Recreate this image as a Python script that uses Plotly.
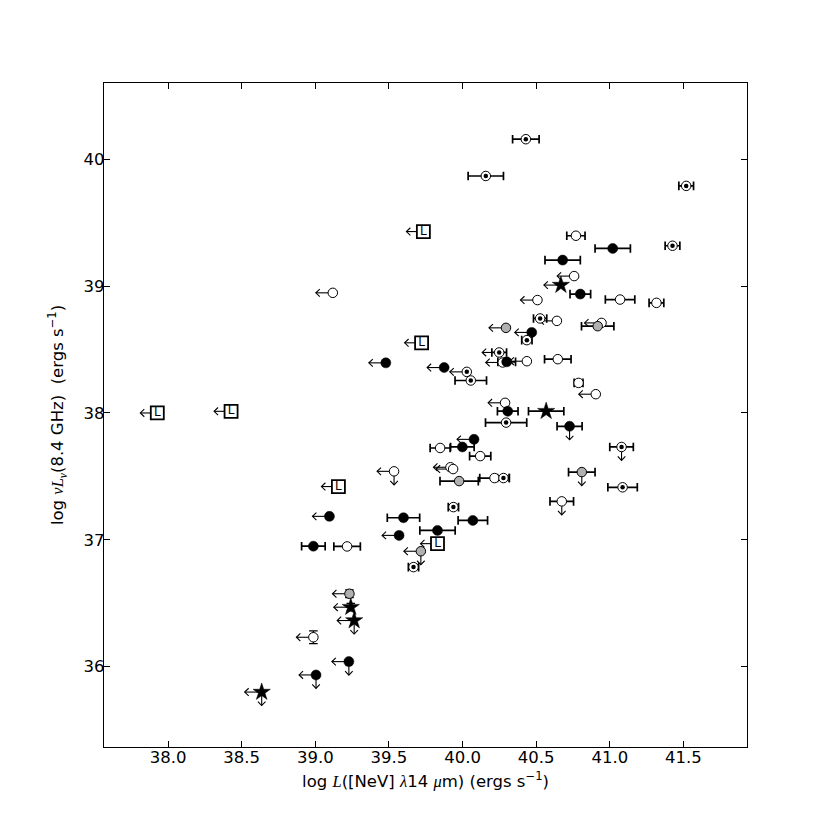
import plotly.graph_objects as go

# ---------------- data ----------------
x_tick_vals = [38.0, 38.5, 39.0, 39.5, 40.0, 40.5, 41.0, 41.5]
x_tick_text = ["38.0", "38.5", "39.0", "39.5", "40.0", "40.5", "41.0", "41.5"]
y_tick_vals = [36, 37, 38, 39, 40]
y_tick_text = ["36", "37", "38", "39", "40"]

# filled black circles
filled_x = [41.02, 40.68, 40.80, 40.47, 40.30, 39.875, 39.479, 40.307, 40.727, 40.078,
            39.999, 40.07, 39.83, 39.599, 39.569, 39.096, 38.987, 39.228, 39.005]
filled_y = [39.297, 39.205, 38.937, 38.635, 38.403, 38.358, 38.395, 38.014, 37.895, 37.792,
            37.732, 37.153, 37.074, 37.174, 37.035, 37.185, 36.95, 36.04, 35.935]
filled_xerr = [0.12, 0.12, 0.07, 0, 0.06, 0, 0, 0.07, 0.085, 0,
               0.08, 0.10, 0.12, 0.11, 0, 0, 0.08, 0, 0]
filled_yerr = [0] * 19
filled_xlim = [0, 0, 0, 1, 0, 1, 1, 0, 0, 1, 0, 0, 0, 0, 1, 1, 0, 1, 1]
filled_ylim = [0, 0, 0, 0, 0, 0, 0, 0, 1, 0, 0, 0, 0, 0, 0, 0, 0, 1, 1]

# open circles
open_x = [40.77, 40.758, 40.509, 41.07, 41.317, 40.641, 40.944, 40.647, 40.437, 40.273,
          40.788, 40.905, 40.289, 39.848, 40.12, 39.918, 39.936, 40.217, 40.674, 39.535,
          39.216, 39.119, 38.987]
open_y = [39.397, 39.079, 38.89, 38.894, 38.868, 38.726, 38.71, 38.424, 38.408, 38.398,
          38.237, 38.148, 38.08, 37.724, 37.66, 37.572, 37.558, 37.487, 37.303, 37.54,
          36.948, 38.947, 36.232]
open_xerr = [0.062, 0, 0, 0.10, 0.05, 0, 0, 0.09, 0, 0,
             0.03, 0, 0, 0.068, 0.072, 0, 0, 0.10, 0.08, 0,
             0.09, 0, 0]
open_yerr = [0] * 22 + [0.05]
open_xlim = [0, 1, 1, 0, 0, 1, 1, 0, 1, 1, 0, 1, 1, 0, 0, 1, 1, 0, 0, 1, 0, 1, 1]
open_ylim = [0, 0, 0, 0, 0, 0, 0, 0, 0, 0, 0, 0, 0, 0, 0, 0, 0, 0, 1, 1, 0, 0, 0]

# open circles with a central dot
dot_x = [40.43, 40.158, 41.519, 41.426, 40.527, 40.437, 40.249, 40.029, 40.056, 40.296,
         41.08, 40.278, 41.087, 39.938, 39.667]
dot_y = [40.158, 39.868, 39.79, 39.318, 38.745, 38.574, 38.477, 38.324, 38.256, 37.924,
         37.732, 37.487, 37.414, 37.258, 36.785]
dot_xerr = [0.09, 0.12, 0.05, 0.05, 0.045, 0.035, 0.05, 0, 0.107, 0.14,
            0.08, 0.04, 0.10, 0.035, 0.035]
dot_yerr = [0] * 15
dot_xlim = [0, 0, 0, 0, 0, 0, 1, 1, 0, 0, 0, 0, 0, 0, 0]
dot_ylim = [0, 0, 0, 0, 0, 0, 0, 0, 0, 0, 1, 0, 0, 0, 0]

# grey circles
grey_x = [40.295, 40.918, 39.977, 40.81, 39.717, 39.232]
grey_y = [38.671, 38.684, 37.463, 37.534, 36.91, 36.575]
grey_xerr = [0, 0.11, 0.13, 0.09, 0, 0]
grey_yerr = [0, 0, 0, 0, 0, 0.03]
grey_xlim = [1, 0, 0, 0, 1, 1]
grey_ylim = [0, 0, 0, 1, 1, 0]

# stars
star_x = [40.668, 40.568, 39.241, 39.264, 38.636]
star_y = [39.008, 38.014, 36.469, 36.364, 35.80]
star_xerr = [0, 0.12, 0, 0, 0]
star_yerr = [0, 0, 0.03, 0, 0]
star_xlim = [1, 0, 1, 1, 1]
star_ylim = [0, 0, 0, 1, 1]

# "L" boxes
lbox_x = [39.734, 39.722, 37.927, 38.428, 39.157, 39.83]
lbox_y = [39.43, 38.553, 38.0, 38.013, 37.42, 36.97]
lbox_xerr = [0] * 6
lbox_yerr = [0] * 6
lbox_xlim = [1] * 6
lbox_ylim = [0] * 6

# ---------------- geometry ----------------
# page body has an 8px margin, so the figure is 822x822 and its margins are shifted
W, H = 822, 822
ML, MR, MT, MB = 96, 83, 75, 83
X0, X1 = 37.565, 41.932
Y0, Y1 = 35.367, 40.601
PX = (X1 - X0) / (W - ML - MR)   # data units per pixel (x)
PY = (Y1 - Y0) / (H - MT - MB)   # data units per pixel (y)

LEFT_LEN, DOWN_LEN = 17.0, 13.5
HEAD_D, HEAD_H = 4.0, 3.8

groups = [
    dict(x=open_x, y=open_y, xe=open_xerr, ye=open_yerr, xl=open_xlim, yl=open_ylim,
         marker=dict(symbol="circle", size=9.5, color="white", line=dict(color="black", width=1))),
    dict(x=filled_x, y=filled_y, xe=filled_xerr, ye=filled_yerr, xl=filled_xlim, yl=filled_ylim,
         marker=dict(symbol="circle", size=10, color="black", line=dict(color="black", width=0.5))),
    dict(x=grey_x, y=grey_y, xe=grey_xerr, ye=grey_yerr, xl=grey_xlim, yl=grey_ylim,
         marker=dict(symbol="circle", size=9.5, color="#b0b0b0", line=dict(color="black", width=1))),
    dict(x=dot_x, y=dot_y, xe=dot_xerr, ye=dot_yerr, xl=dot_xlim, yl=dot_ylim,
         marker=dict(symbol="circle", size=9.5, color="white", line=dict(color="black", width=1)),
         inner=dict(symbol="circle", size=4.5, color="black", line=dict(width=0))),
    dict(x=star_x, y=star_y, xe=star_xerr, ye=star_yerr, xl=star_xlim, yl=star_ylim,
         marker=dict(symbol="star", size=13, color="black", line=dict(color="black", width=0.5))),
    dict(x=lbox_x, y=lbox_y, xe=lbox_xerr, ye=lbox_yerr, xl=lbox_xlim, yl=lbox_ylim,
         marker=dict(symbol="square", size=13, color="white", line=dict(color="black", width=1.8)),
         text="L"),
]

fig = go.Figure()

# arrows (upper limits), drawn first so markers sit on top of the shafts
ax_, ay_ = [], []
for g in groups:
    for x, y, xl, yl in zip(g["x"], g["y"], g["xl"], g["yl"]):
        if xl:
            tip = x - LEFT_LEN * PX
            ax_ += [x, tip, None, tip + HEAD_D * PX, tip, tip + HEAD_D * PX, None]
            ay_ += [y, y, None, y + HEAD_H * PY, y, y - HEAD_H * PY, None]
        if yl:
            tip = y - DOWN_LEN * PY
            ax_ += [x, x, None, x - HEAD_H * PX, x, x + HEAD_H * PX, None]
            ay_ += [y, tip, None, tip + HEAD_D * PY, tip, tip + HEAD_D * PY, None]
fig.add_trace(go.Scatter(x=ax_, y=ay_, mode="lines", line=dict(color="black", width=1.1),
                         hoverinfo="skip"))

# error bars
for g in groups:
    ix = [i for i, v in enumerate(g["xe"]) if v > 0]
    if ix:
        fig.add_trace(go.Scatter(
            x=[g["x"][i] for i in ix], y=[g["y"][i] for i in ix], mode="markers",
            marker=dict(size=1, color="rgba(0,0,0,0)"),
            error_x=dict(type="data", array=[g["xe"][i] for i in ix], color="black",
                         thickness=1.7, width=4.3)))
    iy = [i for i, v in enumerate(g["ye"]) if v > 0]
    if iy:
        fig.add_trace(go.Scatter(
            x=[g["x"][i] for i in iy], y=[g["y"][i] for i in iy], mode="markers",
            marker=dict(size=1, color="rgba(0,0,0,0)"),
            error_y=dict(type="data", array=[g["ye"][i] for i in iy], color="black",
                         thickness=1.2, width=4.3)))

# markers
for g in groups:
    if "text" in g:
        fig.add_trace(go.Scatter(x=g["x"], y=g["y"], mode="markers+text", marker=g["marker"],
                                 text=[g["text"]] * len(g["x"]), textposition="middle center",
                                 textfont=dict(family="DejaVu Sans", size=12, color="black")))
    else:
        fig.add_trace(go.Scatter(x=g["x"], y=g["y"], mode="markers", marker=g["marker"]))
    if "inner" in g:
        fig.add_trace(go.Scatter(x=g["x"], y=g["y"], mode="markers", marker=g["inner"]))

serif = "font-family:Liberation Serif"
xtitle = ('log <span style="%s"><i>L</i></span>([NeV] <span style="%s"><i>λ</i></span>14 '
          '<span style="%s"><i>μ</i></span>m) (ergs s<sup>−1</sup>)') % (serif, serif, serif)
ytitle = ('log <span style="%s"><i>νL</i><sub><i>ν</i></sub></span>(8.4 GHz)  '
          '(ergs s<sup>−1</sup>)') % serif

axis_common = dict(ticks="inside", ticklen=5.5, tickwidth=0.8, tickcolor="black",
                   showline=True, linewidth=1.3, linecolor="black", mirror="ticks",
                   showgrid=False, zeroline=False, ticklabelstandoff=-5,
                   tickfont=dict(family="DejaVu Sans", size=16.5, color="black"))

fig.update_layout(
    width=W, height=H,
    margin=dict(l=ML, r=MR, t=MT, b=MB),
    paper_bgcolor="white", plot_bgcolor="white",
    showlegend=False,
    font=dict(family="DejaVu Sans", size=16.5, color="black"),
    xaxis=dict(range=[X0, X1], tickvals=x_tick_vals, ticktext=x_tick_text,
               title=dict(text=xtitle, standoff=9, font=dict(size=16.5)), **axis_common),
    yaxis=dict(range=[Y0, Y1], tickvals=y_tick_vals, ticktext=y_tick_text,
               title=dict(text=ytitle, standoff=15, font=dict(size=16.5)), **axis_common),
)

fig.write_html("out.html")
